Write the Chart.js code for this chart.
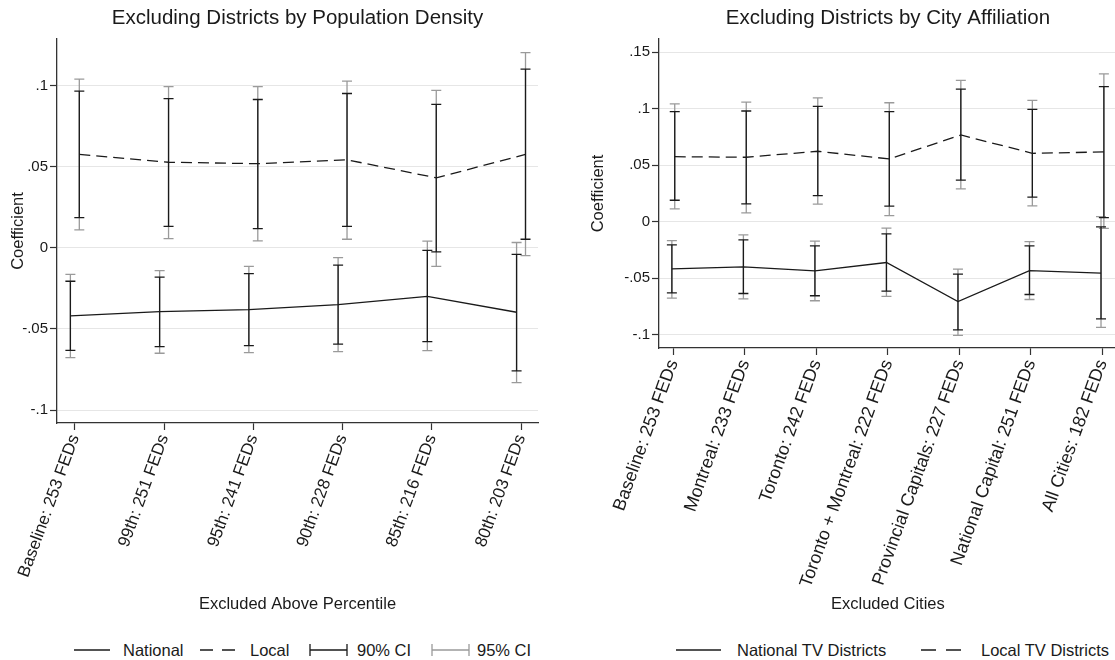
<!DOCTYPE html>
<html><head><meta charset="utf-8">
<script src="https://cdn.jsdelivr.net/npm/chart.js@4.4.0/dist/chart.umd.min.js"></script>
<style>
html,body{margin:0;padding:0;background:#fff;overflow:hidden;width:1115px;height:660px;position:relative;}
canvas{position:absolute;top:0;}
#c1{left:0;}
#c2{left:560px;}
.lg{position:absolute;font-family:"Liberation Sans",Arial,Helvetica,sans-serif;font-size:16.5px;color:#1a1a1a;white-space:nowrap;line-height:20px;height:20px;}
.sym{position:absolute;}
</style></head>
<body>
<canvas id="c1" width="560" height="620"></canvas>
<canvas id="c2" width="565" height="620"></canvas>

<svg class="sym" style="left:74px;top:640px" width="40" height="20"><line x1="0" y1="10" x2="36" y2="10" stroke="#1a1a1a" stroke-width="1.3"/></svg>
<div class="lg" style="left:123px;top:640px">National</div>
<svg class="sym" style="left:200px;top:640px" width="40" height="20"><line x1="0" y1="10" x2="35" y2="10" stroke="#1a1a1a" stroke-width="1.3" stroke-dasharray="13,9"/></svg>
<div class="lg" style="left:250px;top:640px">Local</div>
<svg class="sym" style="left:309px;top:640px" width="40" height="20"><path d="M1 4 V16 M1 10 H38 M38 4 V16" stroke="#1a1a1a" stroke-width="1.3" fill="none"/></svg>
<div class="lg" style="left:357px;top:640px">90% CI</div>
<svg class="sym" style="left:431px;top:640px" width="40" height="20"><path d="M1 4 V16 M1 10 H38 M38 4 V16" stroke="#9a9a9a" stroke-width="1.3" fill="none"/></svg>
<div class="lg" style="left:477px;top:640px">95% CI</div>

<svg class="sym" style="left:676px;top:640px" width="48" height="20"><line x1="0" y1="10" x2="45" y2="10" stroke="#1a1a1a" stroke-width="1.3"/></svg>
<div class="lg" style="left:737px;top:640px">National TV Districts</div>
<svg class="sym" style="left:921px;top:640px" width="44" height="20"><line x1="0" y1="10" x2="40" y2="10" stroke="#1a1a1a" stroke-width="1.3" stroke-dasharray="15,10"/></svg>
<div class="lg" style="left:981px;top:640px">Local TV Districts</div>

<script>
// ---------- DATA ----------
const densityCategories = ["Baseline: 253 FEDs","99th: 251 FEDs","95th: 241 FEDs","90th: 228 FEDs","85th: 216 FEDs","80th: 203 FEDs"];
const densityNational     = [-0.0420,-0.0393,-0.0381,-0.0350,-0.0299,-0.0397];
const densityNational90Lo = [-0.0632,-0.0609,-0.0603,-0.0593,-0.0578,-0.0759];
const densityNational90Hi = [-0.0206,-0.0181,-0.0159,-0.0107,-0.0015,-0.0040];
const densityNational95Lo = [-0.0677,-0.0650,-0.0646,-0.0640,-0.0634,-0.0831];
const densityNational95Hi = [-0.0163,-0.0140,-0.0114,-0.0060, 0.0041, 0.0033];
const densityLocal        = [0.0576,0.0528,0.0519,0.0543,0.0432,0.0576];
const densityLocal90Lo    = [0.0187,0.0133,0.0119,0.0133,-0.0025,0.0053];
const densityLocal90Hi    = [0.0967,0.0920,0.0915,0.0952,0.0885,0.1102];
const densityLocal95Lo    = [0.0111,0.0057,0.0043,0.0053,-0.0114,-0.0048];
const densityLocal95Hi    = [0.1040,0.0994,0.0994,0.1028,0.0971,0.1204];
const densityYTicks       = [-0.1,-0.05,0,0.05,0.1];
const densityYTickLabels  = ["-.1","-.05","0",".05",".1"];

const cityCategories = ["Baseline: 253 FEDs","Montreal: 233 FEDs","Toronto: 242 FEDs","Toronto + Montreal: 222 FEDs","Provincial Capitals: 227 FEDs","National Capital: 251 FEDs","All Cities: 182 FEDs"];
const cityNational     = [-0.0418,-0.0400,-0.0436,-0.0362,-0.0707,-0.0433,-0.0456];
const cityNational90Lo = [-0.0630,-0.0636,-0.0656,-0.0615,-0.0957,-0.0645,-0.0860];
const cityNational90Hi = [-0.0206,-0.0162,-0.0215,-0.0109,-0.0465,-0.0215,-0.0047];
const cityNational95Lo = [-0.0677,-0.0683,-0.0700,-0.0662,-0.1007,-0.0689,-0.0936];
const cityNational95Hi = [-0.0168,-0.0117,-0.0173,-0.0058,-0.0421,-0.0177, 0.0044];
const cityLocal        = [0.0574,0.0569,0.0622,0.0554,0.0766,0.0604,0.0616];
const cityLocal90Lo    = [0.0189,0.0156,0.0230,0.0136,0.0366,0.0216,0.0035];
const cityLocal90Hi    = [0.0972,0.0978,0.1019,0.0972,0.1172,0.0993,0.1193];
const cityLocal95Lo    = [0.0112,0.0077,0.0154,0.0053,0.0289,0.0139,-0.0060];
const cityLocal95Hi    = [0.1042,0.1057,0.1095,0.1051,0.1249,0.1072,0.1307];
const cityYTicks       = [-0.1,-0.05,0,0.05,0.1,0.15];
const cityYTickLabels  = ["-.1","-.05","0",".05",".1",".15"];

// ---------- STYLE ----------
const FONT = '"Liberation Sans", Arial, Helvetica, sans-serif';
const INK = '#1a1a1a';
const AXIS = '#333333';
const GRID = '#e6e6e6';
const GRAY = '#9a9a9a';
Chart.defaults.font.family = FONT;
Chart.defaults.color = INK;

function errorBarPlugin(sets) {
  return {
    id: 'errorBars',
    beforeDatasetsDraw(chart) {
      const {ctx, scales: {x, y}} = chart;
      ctx.save();
      ctx.lineCap = 'butt';
      for (const s of sets) {
        ctx.strokeStyle = s.color;
        ctx.lineWidth = s.width;
        for (let i = 0; i < s.lo.length; i++) {
          const px = x.getPixelForValue(i + s.offset);
          const pl = y.getPixelForValue(s.lo[i]);
          const ph = y.getPixelForValue(s.hi[i]);
          ctx.beginPath();
          ctx.moveTo(px, pl); ctx.lineTo(px, ph);
          ctx.moveTo(px - s.cap, pl); ctx.lineTo(px + s.cap, pl);
          ctx.moveTo(px - s.cap, ph); ctx.lineTo(px + s.cap, ph);
          ctx.stroke();
        }
      }
      ctx.restore();
    }
  };
}

function tickLabelFor(values, labels) {
  return (v) => {
    const k = values.findIndex(t => Math.abs(t - v) < 1e-9);
    return k >= 0 ? labels[k] : '';
  };
}

function makeChart(id, c) {
  const natPts = c.nat.map((v, i) => ({x: i - c.off, y: v}));
  const locPts = c.loc.map((v, i) => ({x: i + c.off, y: v}));
  const sets = [
    {lo: c.nat95lo, hi: c.nat95hi, offset: -c.off, color: GRAY, width: 1.3, cap: 5},
    {lo: c.loc95lo, hi: c.loc95hi, offset:  c.off, color: GRAY, width: 1.3, cap: 5},
    {lo: c.nat90lo, hi: c.nat90hi, offset: -c.off, color: INK,  width: 1.3, cap: 5},
    {lo: c.loc90lo, hi: c.loc90hi, offset:  c.off, color: INK,  width: 1.3, cap: 5},
  ];
  return new Chart(document.getElementById(id), {
    type: 'line',
    data: {
      datasets: [
        {label: c.natLabel, data: natPts, borderColor: INK, borderWidth: 1.3, pointRadius: 0, tension: 0, fill: false},
        {label: c.locLabel, data: locPts, borderColor: INK, borderWidth: 1.3, pointRadius: 0, tension: 0, fill: false, borderDash: [11, 6]}
      ]
    },
    options: {
      responsive: false,
      animation: false,
      events: [],
      layout: {padding: c.pad},
      plugins: {
        legend: {display: false},
        tooltip: {enabled: false},
        title: {display: true, text: c.title, fullSize: false, color: INK,
                font: {size: 20.5, weight: 'normal'}, padding: {top: 6, bottom: 8.4}}
      },
      scales: {
        x: {
          type: 'linear', min: c.xMin, max: c.xMax,
          afterBuildTicks: (s) => { s.ticks = c.cats.map((_, i) => ({value: i})); },
          afterFit: (s) => { s.height = c.xHeight; },
          ticks: {callback: (v) => c.cats[v] ?? '', autoSkip: false,
                  minRotation: c.rot, maxRotation: c.rot, font: {size: c.xFont}, color: INK, padding: 2},
          grid: {drawOnChartArea: false, drawTicks: true, tickLength: 7, tickColor: AXIS, tickWidth: 1.2},
          border: {display: true, color: AXIS, width: 1.3},
          title: {display: true, text: c.xTitle, color: INK, font: {size: 16.5}, padding: {top: 0, bottom: 6}}
        },
        y: {
          type: 'linear', min: c.yMin, max: c.yMax,
          afterBuildTicks: (s) => { s.ticks = c.yTicks.map(v => ({value: v})); },
          afterFit: (s) => { s.width = c.yWidth; },
          ticks: {callback: tickLabelFor(c.yTicks, c.yLabels), font: {size: 15}, color: INK, padding: 2},
          grid: {color: GRID, lineWidth: 1, drawTicks: true, tickLength: 7, tickColor: AXIS, tickWidth: 1.2},
          border: {display: true, color: AXIS, width: 1.3},
          title: {display: true, text: 'Coefficient', color: INK, font: {size: 16.5}, padding: {top: 9, bottom: 0}}
        }
      }
    },
    plugins: [errorBarPlugin(sets)]
  });
}

makeChart('c1', {
  title: 'Excluding Districts by Population Density',
  xTitle: 'Excluded Above Percentile',
  natLabel: 'National', locLabel: 'Local',
  cats: densityCategories,
  nat: densityNational, nat90lo: densityNational90Lo, nat90hi: densityNational90Hi,
  nat95lo: densityNational95Lo, nat95hi: densityNational95Hi,
  loc: densityLocal, loc90lo: densityLocal90Lo, loc90hi: densityLocal90Hi,
  loc95lo: densityLocal95Lo, loc95hi: densityLocal95Hi,
  yTicks: densityYTicks, yLabels: densityYTickLabels,
  off: 0.05, xMin: -0.2, xMax: 5.19, yMin: -0.108, yMax: 0.1288,
  pad: {left: 0, right: 22, top: 0, bottom: 0},
  yWidth: 57, xHeight: 197, xFont: 17, rot: 70
});

makeChart('c2', {
  title: 'Excluding Districts by City Affiliation',
  xTitle: 'Excluded Cities',
  natLabel: 'National TV Districts', locLabel: 'Local TV Districts',
  cats: cityCategories,
  nat: cityNational, nat90lo: cityNational90Lo, nat90hi: cityNational90Hi,
  nat95lo: cityNational95Lo, nat95hi: cityNational95Hi,
  loc: cityLocal, loc90lo: cityLocal90Lo, loc90hi: cityLocal90Hi,
  loc95lo: cityLocal95Lo, loc95hi: cityLocal95Hi,
  yTicks: cityYTicks, yLabels: cityYTickLabels,
  off: 0.02, xMin: -0.2, xMax: 6.2, yMin: -0.1118, yMax: 0.1615,
  pad: {left: 20, right: 6.3, top: 0, bottom: 0},
  yWidth: 79, xHeight: 272, xFont: 18, rot: 70
});
</script>
</body></html>
